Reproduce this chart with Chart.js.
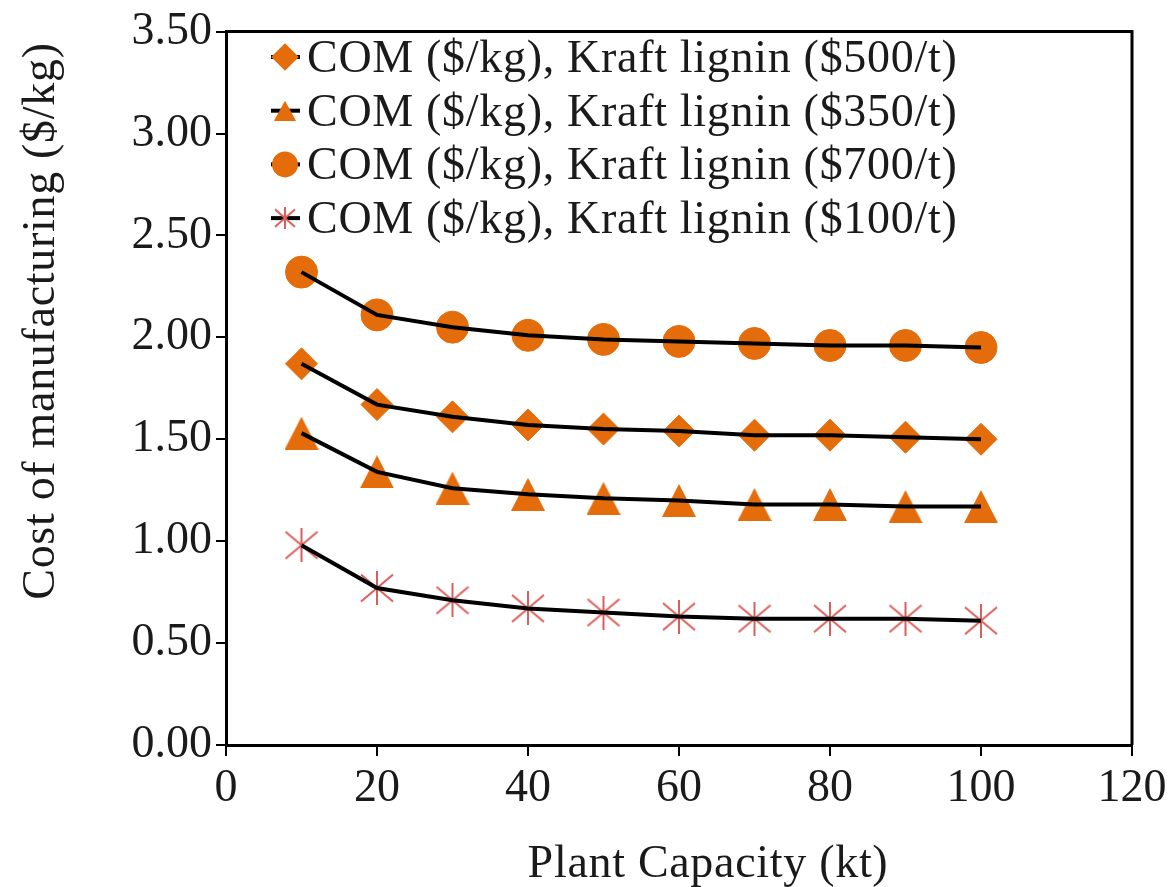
<!DOCTYPE html>
<html><head><meta charset="utf-8">
<script src="https://cdn.jsdelivr.net/npm/chart.js@4.4.1/dist/chart.umd.min.js"></script>
<style>html,body{margin:0;padding:0;background:#fff;} canvas{display:block;}</style>
</head><body>
<canvas id="c" width="1173" height="887"></canvas>
<script>
// ---- data ----
const capacities = [10, 20, 30, 40, 50, 60, 70, 80, 90, 100];
const com500 = [1.87, 1.67, 1.61, 1.57, 1.55, 1.54, 1.52, 1.52, 1.51, 1.50];
const com350 = [1.53, 1.34, 1.26, 1.23, 1.21, 1.20, 1.18, 1.18, 1.17, 1.17];
const com700 = [2.32, 2.11, 2.05, 2.01, 1.99, 1.98, 1.97, 1.96, 1.96, 1.95];
const com100 = [0.98, 0.77, 0.71, 0.67, 0.65, 0.63, 0.62, 0.62, 0.62, 0.61];
const seriesLabels = [
  'COM ($/kg), Kraft lignin ($500/t)',
  'COM ($/kg), Kraft lignin ($350/t)',
  'COM ($/kg), Kraft lignin ($700/t)',
  'COM ($/kg), Kraft lignin ($100/t)'
];
const xMin = 0, xMax = 120, xStep = 20;
const yMin = 0, yMax = 3.5, yStep = 0.5;
const xTitle = 'Plant Capacity (kt)';
const yTitle = 'Cost of manufacturing ($/kg)';

// ---- styles ----
const ORANGE = '#E46C0A';
const ASTER = '#DA5F5A';
const TEXT = '#1a1a1a';
const FONT = "'Liberation Serif', 'Times New Roman', serif";

function makeTriangle(w, h) {
  const c = document.createElement('canvas'); c.width = w; c.height = h;
  const g = c.getContext('2d');
  g.fillStyle = ORANGE; g.beginPath();
  g.moveTo(w / 2, 0); g.lineTo(w, h); g.lineTo(0, h); g.closePath(); g.fill();
  return c;
}
function makeAsterisk(s, lw) {
  const c = document.createElement('canvas'); c.width = s; c.height = s;
  const g = c.getContext('2d');
  g.strokeStyle = ASTER; g.lineWidth = lw; g.lineCap = 'butt';
  g.beginPath();
  g.moveTo(s / 2, 0); g.lineTo(s / 2, s);
  g.moveTo(1, s * 0.1); g.lineTo(s - 1, s * 0.9);
  g.moveTo(s - 1, s * 0.1); g.lineTo(1, s * 0.9);
  g.stroke();
  return c;
}
const triBig = makeTriangle(34, 33), triSmall = makeTriangle(22, 20);
const astBig = makeAsterisk(34, 2), astSmall = makeAsterisk(22, 2);

const series = [
  { label: seriesLabels[0], values: com500, style: 'rectRot', radius: 16, legendStyle: 'rectRot', legendRadius: 11, color: ORANGE },
  { label: seriesLabels[1], values: com350, style: triBig, radius: 16, legendStyle: triSmall, legendRadius: 11, color: ORANGE },
  { label: seriesLabels[2], values: com700, style: 'circle', radius: 16, legendStyle: 'circle', legendRadius: 11, color: ORANGE },
  { label: seriesLabels[3], values: com100, style: astBig, radius: 16, legendStyle: astSmall, legendRadius: 11, color: ASTER }
];

const datasets = [];
series.forEach((s) => {
  const pts = capacities.map((x, j) => ({ x: x, y: s.values[j] }));
  datasets.push({
    label: s.label, data: pts, showLine: false,
    pointStyle: s.style, pointRadius: s.radius, pointHoverRadius: s.radius,
    pointBackgroundColor: s.color, pointBorderColor: s.color, pointBorderWidth: 1,
    order: 2
  });
  datasets.push({
    label: s.label + ' line', data: pts, showLine: true,
    borderColor: '#000', borderWidth: 4, pointRadius: 0, tension: 0,
    order: 1
  });
});

const framePlugin = {
  id: 'frame',
  beforeDatasetsDraw(chart) {
    const { ctx, chartArea: a } = chart;
    ctx.save();
    ctx.strokeStyle = '#000'; ctx.lineWidth = 3;
    ctx.beginPath();
    ctx.moveTo(a.left, a.top); ctx.lineTo(a.right, a.top); ctx.lineTo(a.right, a.bottom);
    ctx.stroke();
    ctx.restore();
  }
};

const textPlugin = {
  id: 'texts',
  afterDraw(chart) {
    const { ctx } = chart;
    ctx.save();
    ctx.fillStyle = TEXT;
    ctx.font = '46px ' + FONT;
    try { ctx.letterSpacing = '0.7px'; } catch (e) {}
    // x title
    ctx.textAlign = 'center'; ctx.textBaseline = 'alphabetic';
    ctx.fillText(xTitle, 708, 877);
    // y title
    ctx.save();
    ctx.translate(54, 321); ctx.rotate(-Math.PI / 2);
    ctx.fillText(yTitle, 0, 0);
    ctx.restore();
    // legend
    series.forEach((s, i) => {
      const cy = 57 + 53.7 * i;
      ctx.save();
      ctx.strokeStyle = '#000'; ctx.lineWidth = 4;
      ctx.beginPath(); ctx.moveTo(271, cy); ctx.lineTo(300, cy); ctx.stroke();
      ctx.fillStyle = s.color; ctx.strokeStyle = s.color;
      Chart.helpers.drawPoint(ctx, { pointStyle: s.legendStyle, radius: s.legendRadius, rotation: 0, borderWidth: 1 }, 285, cy);
      ctx.restore();
      ctx.textAlign = 'left'; ctx.textBaseline = 'alphabetic';
      ctx.fillText(s.label, 307, cy + 15);
    });
    ctx.restore();
  }
};

new Chart(document.getElementById('c'), {
  type: 'scatter',
  data: { datasets: datasets },
  options: {
    responsive: false,
    animation: false,
    layout: { padding: { left: 0, right: 41, top: 28, bottom: 0 } },
    plugins: { legend: { display: false }, tooltip: { enabled: false } },
    scales: {
      x: {
        type: 'linear', min: xMin, max: xMax,
        afterFit(scale) { scale.height = 142; },
        ticks: { stepSize: xStep, color: TEXT, padding: 5, font: { family: FONT, size: 46 } },
        grid: { display: true, drawOnChartArea: false, drawTicks: true, tickLength: 11, color: '#000', lineWidth: 2 },
        border: { display: true, color: '#000', width: 3 },
        title: { display: false }
      },
      y: {
        type: 'linear', min: yMin, max: yMax,
        afterFit(scale) { scale.width = 226; },
        ticks: { stepSize: yStep, color: TEXT, padding: 4, font: { family: FONT, size: 46 },
          callback: (v) => Number(v).toFixed(2) },
        grid: { display: true, drawOnChartArea: false, drawTicks: true, tickLength: 10, color: '#000', lineWidth: 2 },
        border: { display: true, color: '#000', width: 3 },
        title: { display: false }
      }
    }
  },
  plugins: [framePlugin, textPlugin]
});
</script>
</body></html>
